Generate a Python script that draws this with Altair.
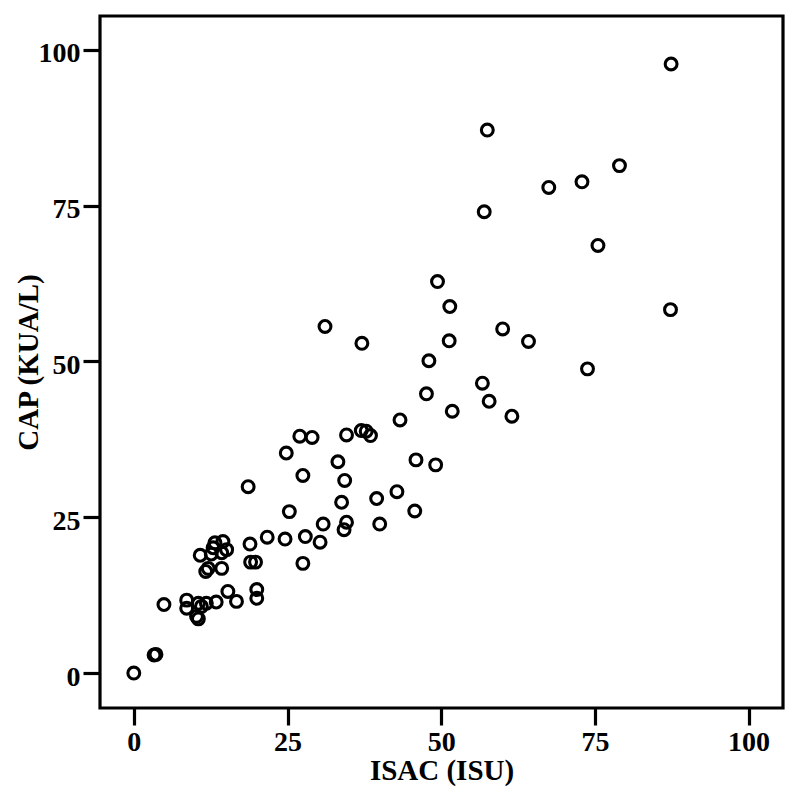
import altair as alt
import pandas as pd

isac = [87.4, 57.5, 79.0, 72.9, 67.5, 57.0, 75.5, 49.4, 51.4, 87.3,
        60.0, 51.3, 64.2, 48.0, 73.8, 56.7, 47.6, 57.8, 51.8, 61.5,
        31.1, 37.1, 43.3, 27.0, 29.0, 34.6, 37.0, 37.8, 38.5, 33.2,
        45.9, 49.1, 27.5, 34.3, 42.8, 39.5, 33.8, 45.7, 30.8, 34.6,
        40.0, 34.2, 24.8, 18.6, 25.3, 21.7, 24.6, 27.9, 30.3, 18.9,
        27.5, 19.0, 19.8, 10.8, 12.6, 13.2, 14.5, 12.9, 15.1, 14.3,
        11.7, 12.1, 14.3, 8.6, 8.6, 10.5, 11.0, 11.8, 10.2, 10.5,
        13.4, 15.3, 16.7, 20.0, 20.0, 4.9, 3.3, 3.6, 0.0]
cap = [97.7, 87.1, 81.4, 78.8, 77.9, 74.0, 68.6, 62.8, 58.8, 58.3,
       55.2, 53.3, 53.2, 50.1, 48.8, 46.5, 44.8, 43.6, 42.0, 41.2,
       55.6, 52.9, 40.6, 38.0, 37.8, 38.2, 38.9, 38.8, 38.1, 33.9,
       34.2, 33.4, 31.7, 30.9, 29.1, 28.0, 27.4, 26.0, 23.9, 24.2,
       23.9, 23.0, 35.3, 29.9, 25.9, 21.8, 21.5, 21.9, 21.0, 20.7,
       17.6, 17.8, 17.8, 18.9, 19.1, 20.9, 21.1, 20.1, 19.8, 19.3,
       16.3, 16.8, 16.8, 11.7, 10.4, 11.2, 10.7, 11.2, 9.1, 8.7,
       11.4, 13.1, 11.5, 13.4, 12.0, 11.0, 2.9, 3.0, 0.0]
ticks = [0, 25, 50, 75, 100]

df = pd.DataFrame({"ISAC": isac, "CAP": cap})

FONT = "Liberation Serif"

chart = alt.Chart(df).mark_point(
    shape="circle", filled=False, color="black", size=140, strokeWidth=3.1, opacity=1
).encode(
    x=alt.X("ISAC:Q", scale=alt.Scale(domain=[-5.5, 105.6], nice=False, zero=False),
            axis=alt.Axis(values=ticks, title="ISAC (ISU)", grid=False, domain=False,
                          tickSize=17, tickWidth=3.2, tickColor="black",
                          labelFont=FONT, labelFontSize=28, labelFontWeight="bold",
                          labelColor="black", labelBaseline="alphabetic", labelPadding=25,
                          titleFont=FONT, titleFontSize=29, titleFontWeight="bold",
                          titleColor="black", titleBaseline="alphabetic", titleAlign="center",
                          titleX=341.5, titleY=71)),
    y=alt.Y("CAP:Q", scale=alt.Scale(domain=[-5.6, 105.4], nice=False, zero=False),
            axis=alt.Axis(values=ticks, title="CAP (KUA/L)", grid=False, domain=False,
                          tickSize=17, tickWidth=3.2, tickColor="black",
                          labelFont=FONT, labelFontSize=28, labelFontWeight="bold",
                          labelColor="black", labelBaseline="alphabetic", labelPadding=3,
                          labelOffset=12,
                          titleFont=FONT, titleFontSize=29, titleFontWeight="bold",
                          titleColor="black", titleBaseline="alphabetic", titleAlign="center",
                          titleAngle=270, titleX=-63, titleY=346)),
).properties(
    width=683, height=692,
    background="white",
    autosize=alt.AutoSizeParams(type="none"),
    padding={"left": 92, "top": 8, "right": 9, "bottom": 79},
).configure_view(
    stroke="black", strokeWidth=3.2
)

chart.save("out.html", embed_options={"renderer": "svg", "actions": False})
